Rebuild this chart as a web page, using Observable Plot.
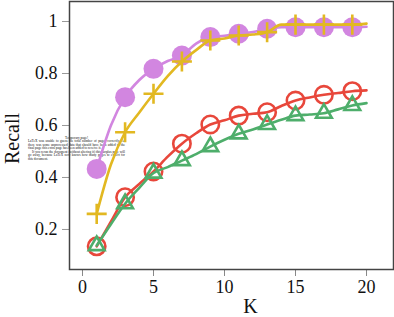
<!DOCTYPE html>
<html><head><meta charset="utf-8">
<script src="https://cdn.jsdelivr.net/npm/d3@7"></script>
<script src="https://cdn.jsdelivr.net/npm/@observablehq/plot@0.6"></script>
<style>
body{margin:0;background:#fff;}
#wrap{position:relative;width:394px;height:317px;}
#note{position:absolute;left:28px;top:137px;width:97px;font-family:"Liberation Serif",serif;font-size:3.4px;line-height:3.45px;color:#111;text-align:justify;z-index:0;}
#note .t{text-align:center;}
#note p{margin:0;text-indent:0;}
#note p.i{text-indent:4px;}
#chart{position:relative;z-index:1;}
</style></head><body>
<div id="wrap">
<div id="note"><div class="t">Temporary page!</div><p>LaTeX was unable to guess the total number of pages correctly. As there was some unprocessed data that should have been added to the final page this extra page has been added to receive it.</p><p class="i">If you rerun the document (without altering it) this surplus page will go away, because LaTeX now knows how many pages to expect for this document.</p></div>
<div id="chart"></div>
</div>
<script>
const K = [1,2,3,4,5,6,7,8,9,10,11,12,13,14,15,16,17,18,19,20];
const purple = [0.433,0.60,0.709,0.775,0.818,0.848,0.869,0.915,0.940,0.945,0.953,0.960,0.972,0.978,0.978,0.978,0.978,0.978,0.978,0.980];
const yellow = [0.260,0.45,0.574,0.65,0.722,0.79,0.846,0.89,0.927,0.935,0.946,0.950,0.959,0.988,0.988,0.988,0.988,0.988,0.988,0.992];
const red    = [0.135,0.23,0.324,0.375,0.423,0.48,0.530,0.57,0.604,0.620,0.638,0.645,0.651,0.675,0.696,0.708,0.718,0.725,0.732,0.735];
const green  = [0.138,0.22,0.299,0.36,0.417,0.44,0.465,0.49,0.519,0.545,0.568,0.585,0.604,0.622,0.638,0.642,0.647,0.662,0.677,0.686];
const xTicks = [0,5,10,15,20];
const yTicks = [0.2,0.4,0.6,0.8,1];

const mk = vals => K.map((k,i)=>({K:k, v:vals[i]}));
const odd = arr => arr.filter(d => d.K % 2 === 1);
const P = mk(purple), Y = mk(yellow), R = mk(red), G = mk(green);
const cP="#d286e0", cY="#e2b821", cR="#e8473b", cG="#4eae6b";
const lw = 2.6;

const chart = Plot.plot({
  width:394, height:317, marginLeft:69, marginRight:1, marginTop:1, marginBottom:48,
  style:{fontFamily:"'Liberation Serif', serif", background:"transparent", color:"#111"},
  x:{domain:[-0.915,21.9]},
  y:{domain:[0.046,1.077]},
  marks:[
    Plot.axisY({ticks:yTicks, tickFormat:d3.format("~g"), tickSize:7, tickPadding:5, stroke:"#999", fill:"#111", fontSize:18, label:null}),
    Plot.axisX({ticks:xTicks, tickSize:7, tickPadding:4, stroke:"#888", fill:"#111", fontSize:18, label:null}),
    Plot.text(["Recall"], {text:d=>d, frameAnchor:"left", textAnchor:"middle", dx:-57, dy:3, rotate:-90, fontSize:20, fill:"#111"}),
    Plot.text(["K"], {text:d=>d, frameAnchor:"bottom", dx:19, dy:43, fontSize:20, fill:"#111"}),
    Plot.line(P, {x:"K", y:"v", stroke:cP, strokeWidth:lw, curve:"monotone-x"}),
    Plot.dot(odd(P), {x:"K", y:"v", r:10, fill:cP, stroke:"none"}),
    Plot.line(Y, {x:"K", y:"v", stroke:cY, strokeWidth:lw, curve:"monotone-x"}),
    Plot.dot(odd(Y), {x:"K", y:"v", symbol:"plus", r:6.5, stroke:cY, strokeWidth:2.6}),
    Plot.line(R, {x:"K", y:"v", stroke:cR, strokeWidth:lw, curve:"monotone-x"}),
    Plot.dot(odd(R), {x:"K", y:"v", symbol:"circle", r:8.7, fill:"none", stroke:cR, strokeWidth:2.6}),
    Plot.line(G, {x:"K", y:"v", stroke:cG, strokeWidth:lw, curve:"monotone-x"}),
    Plot.dot(odd(G), {x:"K", y:"v", symbol:"triangle2", r:7.5, stroke:cG, strokeWidth:2.6}),
    Plot.frame({stroke:"#444", strokeWidth:1.5})
  ]
});
document.getElementById("chart").appendChild(chart);
</script>
</body></html>
